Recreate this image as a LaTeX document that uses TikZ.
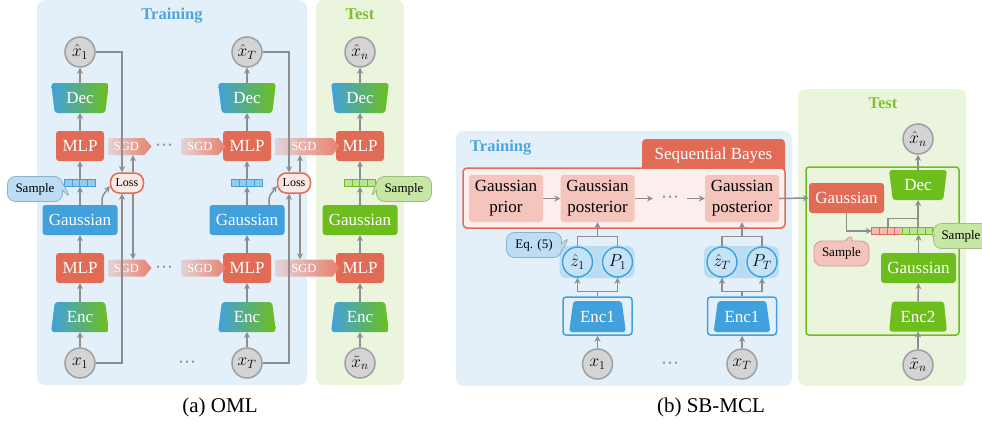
\documentclass[tikz,border=0pt]{standalone}
\usepackage{fontspec}
\setmainfont{Liberation Serif}
\usetikzlibrary{shapes.geometric,shapes.symbols,shapes.callouts,arrows.meta,calc}
\definecolor{bgblue}{HTML}{E3F0FA}
\definecolor{bggreen}{HTML}{EBF5DE}
\definecolor{cblue}{HTML}{41A1DC}
\definecolor{cgreen}{HTML}{6DBE1C}
\definecolor{cred}{HTML}{E26B55}
\definecolor{cgray}{HTML}{8E8E8E}
\definecolor{cfillgray}{HTML}{D4D4D4}
\definecolor{cpink}{HTML}{F5C5BD}
\definecolor{cpinkbg}{HTML}{FBEEEC}
\definecolor{ctblue}{HTML}{4DA5DD}
\definecolor{ctgreen}{HTML}{7DC12C}
\definecolor{clbfill}{HTML}{C5E3F6}
\definecolor{cgroup}{HTML}{B9DCF3}
\definecolor{callbf}{HTML}{BCDDF3}
\definecolor{callbd}{HTML}{8FB0C8}
\definecolor{callgf}{HTML}{C8E7A4}
\definecolor{callgd}{HTML}{A0BC84}
\definecolor{callrf}{HTML}{F4C4BC}
\definecolor{callrd}{HTML}{C8A09A}
\newcommand{\threedots}{{\fontsize{10}{10}\selectfont\textbullet\hspace{2.5pt}\textbullet\hspace{2.5pt}\textbullet}}
\tikzset{
  every node/.style={font=\fontsize{17}{21}\selectfont, inner sep=0pt},
  arr/.style={draw=cgray, line width=1.5pt, -{Stealth[length=6pt,width=6pt]}},
  ln/.style={draw=cgray, line width=1.5pt},
  varc/.style={circle, fill=cfillgray, draw=cgray!85, line width=1.5pt, minimum size=30pt},
  varb/.style={circle, fill=clbfill, draw=cblue, line width=1.5pt, minimum size=30pt,
               preaction={draw=cblue!30, line width=4.5pt}},
  mlp/.style={rectangle, rounded corners=3pt, fill=cred, text=white, minimum width=48pt, minimum height=30pt},
  gaussb/.style={rectangle, rounded corners=3pt, fill=cblue, text=white, minimum width=75pt, minimum height=30pt},
  gaussg/.style={gaussb, fill=cgreen},
  gaussr/.style={gaussb, fill=cred},
  encbox/.style={trapezium, trapezium angle=80, trapezium stretches=true, minimum width=58pt,
                 minimum height=30pt, rounded corners=3pt, text=white},
  decbox/.style={encbox, shape border rotate=180},
  grad/.style={left color=cblue, right color=cgreen},
  sgd/.style={signal, signal to=east, signal pointer angle=100, minimum height=17pt,
              left color=cred!22!bgblue, right color=cred!85!white, text=white,
              font=\fontsize{12.5}{14}\selectfont},
  lossn/.style={rectangle, rounded corners=9pt, fill=cred!15!white, draw=cred, line width=1.5pt,
                minimum width=33pt, minimum height=20pt, font=\fontsize{12}{14}\selectfont},
  vecnode/.style={rectangle, minimum width=31pt, minimum height=7pt},
  cellb/.style={fill=cblue!55!white, draw=cblue, line width=0.9pt},
  cellg/.style={fill=cgreen!45!white, draw=cgreen, line width=0.9pt},
  cellr/.style={fill=cred!45!white, draw=cred, line width=0.9pt},
  dotsn/.style={text=cgray!90},
  ttl/.style={font=\bfseries\fontsize{16.5}{18}\selectfont},
  callb/.style={rectangle callout, rounded corners=8pt, fill=callbf, draw=callbd, line width=0.8pt,
                font=\fontsize{13}{15}\selectfont, minimum width=55pt, minimum height=25pt},
  callg/.style={callb, fill=callgf, draw=callgd},
  callr/.style={callb, fill=callrf, draw=callrd},
  sbbox/.style={rectangle, rounded corners=3pt, fill=cpink, minimum width=74pt, minimum height=47pt, align=center},
  capt/.style={font=\fontsize{21}{24}\selectfont},
}
\begin{document}
\begin{tikzpicture}[x=1pt,y=-1pt]
\useasboundingbox (0,0) rectangle (982,423);
% backgrounds
\fill[bgblue, rounded corners=8pt] (37,0) rectangle (307,385);
\fill[bggreen, rounded corners=8pt] (316,0) rectangle (404,385);
\fill[bgblue, rounded corners=8pt] (456,131) rectangle (792,386);
\fill[bggreen, rounded corners=8pt] (798,89) rectangle (966,386);
% titles
\node[ttl, text=ctblue] (t1) at (172,16) {Training};
\node[ttl, text=ctgreen] (t2) at (360,14) {Test};
\node[ttl, text=ctblue, anchor=west] (t3) at (470,148) {Training};
\node[ttl, text=ctgreen] (t4) at (883,103) {Test};
% ---------- (a) OML ----------
\foreach \n/\c in {1/80,T/247}{
  \node[varc] (xh\n) at (\c,52) {$\hat{x}_{\n}$};
  \node[decbox, grad] (dec\n) at (\c,98) {Dec};
  \node[mlp] (mu\n) at (\c,146) {MLP};
  \node[vecnode] (v\n) at (\c,183) {};
  \node[gaussb] (g\n) at (\c,220) {Gaussian};
  \node[mlp] (ml\n) at (\c,268) {MLP};
  \node[encbox, grad] (enc\n) at (\c,317) {Enc};
  \node[varc] (x\n) at (\c,363) {$x_{\n}$};
  \node[lossn] (loss\n) at ({\c+47},183) {Loss};
}
\node[varc] (xhn) at (360,52) {$\hat{x}_n$};
\node[decbox, grad] (decn) at (360,98) {Dec};
\node[mlp] (mun) at (360,146) {MLP};
\node[vecnode] (vn) at (360,183) {};
\node[gaussg] (gn) at (360,220) {Gaussian};
\node[mlp] (mln) at (360,268) {MLP};
\node[encbox, grad] (encn) at (360,317) {Enc};
\node[varc] (xn) at (360,363) {$\tilde{x}_n$};
% cells
\foreach \vv in {v1,vT}{\foreach \i in {0,...,3}
  \draw[cellb] ($(\vv.south west)+(\i*7.75,0)$) rectangle ++(7.75,-7);}
\foreach \i in {0,...,3}
  \draw[cellg] ($(vn.south west)+(\i*7.75,0)$) rectangle ++(7.75,-7);
% SGD arrows
\node[sgd, minimum width=43pt] (sa1) at (126.5,146.5) {SGD};
\node[sgd, minimum width=43pt] (sb1) at (126.5,268) {SGD};
\node[sgd, minimum width=44pt] (sm1) at (200,146.5) {SGD};
\node[sgd, minimum width=44pt] (sm2) at (200,268) {SGD};
\node[sgd, minimum width=64pt] (saT) at (304,146.5) {SGD};
\node[sgd, minimum width=64pt] (sbT) at (304,268) {SGD};
\node[dotsn] (d1) at (164,146) {\threedots};
\node[dotsn] (d2) at (164,268) {\threedots};
\node[dotsn] (d3) at (187,363) {\threedots};
% column arrows
\foreach \n in {1,T,n}{
  \draw[arr] ([yshift=15pt]dec\n.center) -- (xh\n.south);
  \draw[arr] (mu\n.north) -- ([yshift=-15pt]dec\n.center);
  \draw[arr] (v\n.north) -- (mu\n.south);
  \draw[arr] (g\n.north) -- (v\n.south);
  \draw[arr] (ml\n.north) -- (g\n.south);
  \draw[arr] ([yshift=15pt]enc\n.center) -- (ml\n.south);
  \draw[arr] (x\n.north) -- ([yshift=-15pt]enc\n.center);
}
\foreach \n in {1,T}{
  \draw[arr] (xh\n.east) -| ([xshift=-5pt]loss\n.north);
  \draw[arr] (x\n.east) -| ([xshift=-5pt]loss\n.south);
  \draw[arr] ([xshift=6pt]loss\n.north) -- ([xshift=6pt]loss\n.north |- sa\n.south);
  \draw[arr] ([xshift=6pt]loss\n.south) -- ([xshift=6pt]loss\n.south |- sb\n.north);
  \draw[arr, rounded corners=2pt] ([xshift=22pt]g\n.north) -- ++(0,-8) -- ([yshift=-3pt]loss\n.west);
}
% callouts (a)
\coordinate (pa) at (71,199);
\node[callb, callout absolute pointer={(pa)}] (smpA) at (35,189) {Sample};
\coordinate (pb) at (370,199);
\node[callg, callout absolute pointer={(pb)}] (smpB) at (404,189) {Sample};
% ---------- (b) SB-MCL ----------
\fill[cred, rounded corners=4pt] (642,139) rectangle (785,175);
\node[text=white] (sbt) at (713.5,155) {Sequential Bayes};
\draw[cred, line width=1.5pt, fill=cpinkbg, rounded corners=4pt] (463,168) rectangle (785,228);
\node[sbbox] (prior) at (506,198.5) {Gaussian\\prior};
\node[sbbox] (post1) at (597.5,198.5) {Gaussian\\posterior};
\node[sbbox] (postT) at (742,198.5) {Gaussian\\posterior};
\coordinate (q1) at (653,198.5);
\coordinate (q2) at (687,198.5);
\node[dotsn] (d4) at (670,198) {\threedots};
\draw[arr] (prior.east) -- (post1.west);
\draw[arr] (post1.east) -- (q1);
\draw[arr] (q2) -- (postT.west);
\foreach \n/\c in {1/597.5,T/742}{
  \fill[cgroup, rounded corners=7pt] ({\c-38},246) rectangle ({\c+37},278);
  \node[varb] (z\n) at ({\c-20},262) {$\hat{z}_{\n}$};
  \node[varb] (P\n) at ({\c+20},262) {$P_{\n}$};
  \node[rectangle, draw=cblue, line width=1.5pt, rounded corners=3pt, minimum width=69pt, minimum height=38pt] (eo\n) at (\c,316) {};
  \node[trapezium, trapezium angle=75, trapezium stretches=true, minimum width=57pt, minimum height=31pt,
        rounded corners=3pt, fill=cblue, text=white] (ei\n) at (\c,316.5) {Enc1};
  \node[varc] (xb\n) at (\c,364) {$x_{\n}$};
  \draw[arr] (xb\n.north) -- (eo\n.south);
  \draw[ln] (eo\n.north) -- ++(0,-5) coordinate (j\n);
  \draw[arr] (j\n) -| (z\n.south);
  \draw[arr] (j\n) -| (P\n.south);
  \draw[ln] (z\n.north) -- ++(0,-10) -| (P\n.north);
}
\draw[arr] ($(z1.north)!0.5!(P1.north)+(0,-10)$) -- (post1.south);
\draw[arr] ($(zT.north)!0.5!(PT.north)+(0,-10)$) -- (postT.south);
\node[dotsn] (d5) at (670,364) {\threedots};
\coordinate (pe) at (570,236);
\node[callb, callout absolute pointer={(pe)}] (eq) at (534,245) {Eq. (5)};
% test (b)
\draw[cgreen, line width=1.5pt, rounded corners=3pt] (806,167) rectangle (959,335);
\node[varc] (xhb) at (918,139) {$\hat{x}_n$};
\node[decbox, fill=cgreen] (decb) at (918,185) {Dec};
\node[gaussr] (gr) at (846.5,198) {Gaussian};
\node[rectangle, minimum width=61pt, minimum height=7pt] (vb) at (902.5,231) {};
\foreach \i in {0,...,3}
  \draw[cellr] ($(vb.south west)+(\i*7.625,0)$) rectangle ++(7.625,-7);
\foreach \i in {4,...,7}
  \draw[cellg] ($(vb.south west)+(\i*7.625,0)$) rectangle ++(7.625,-7);
\node[gaussg] (gb) at (918.5,268) {Gaussian};
\node[encbox, fill=cgreen] (enc2) at (918,316.5) {Enc2};
\node[varc] (xtb) at (918,365) {$\tilde{x}_n$};
\draw[arr] (postT.east) -- (gr.west);
\draw[arr] (gr.south) |- (vb.west);
\draw[ln] ([xshift=-14.5pt]vb.north) |- ([yshift=9pt]vb.north -| decb.center);
\draw[arr] (vb.north -| decb.center) -- ([yshift=-15pt]decb.center);
\draw[arr] ([yshift=15pt]decb.center) -- (xhb.south);
\draw[arr] (gb.north) -- (vb.south -| gb.north);
\draw[arr] ([yshift=15pt]enc2.center) -- (gb.south);
\draw[arr] (xtb.north) -- ([yshift=-15pt]enc2.center);
\coordinate (pr) at (853,233);
\node[callr, callout absolute pointer={(pr)}] (smpC) at (841.5,253.5) {Sample};
\coordinate (pg) at (931,241);
\node[callg, callout absolute pointer={(pg)}] (smpD) at (961,236) {Sample};
% captions
\node[capt] (ca) at (220,407) {(a) OML};
\node[capt] (cb) at (711,407) {(b) SB-MCL};
\end{tikzpicture}
\end{document}
